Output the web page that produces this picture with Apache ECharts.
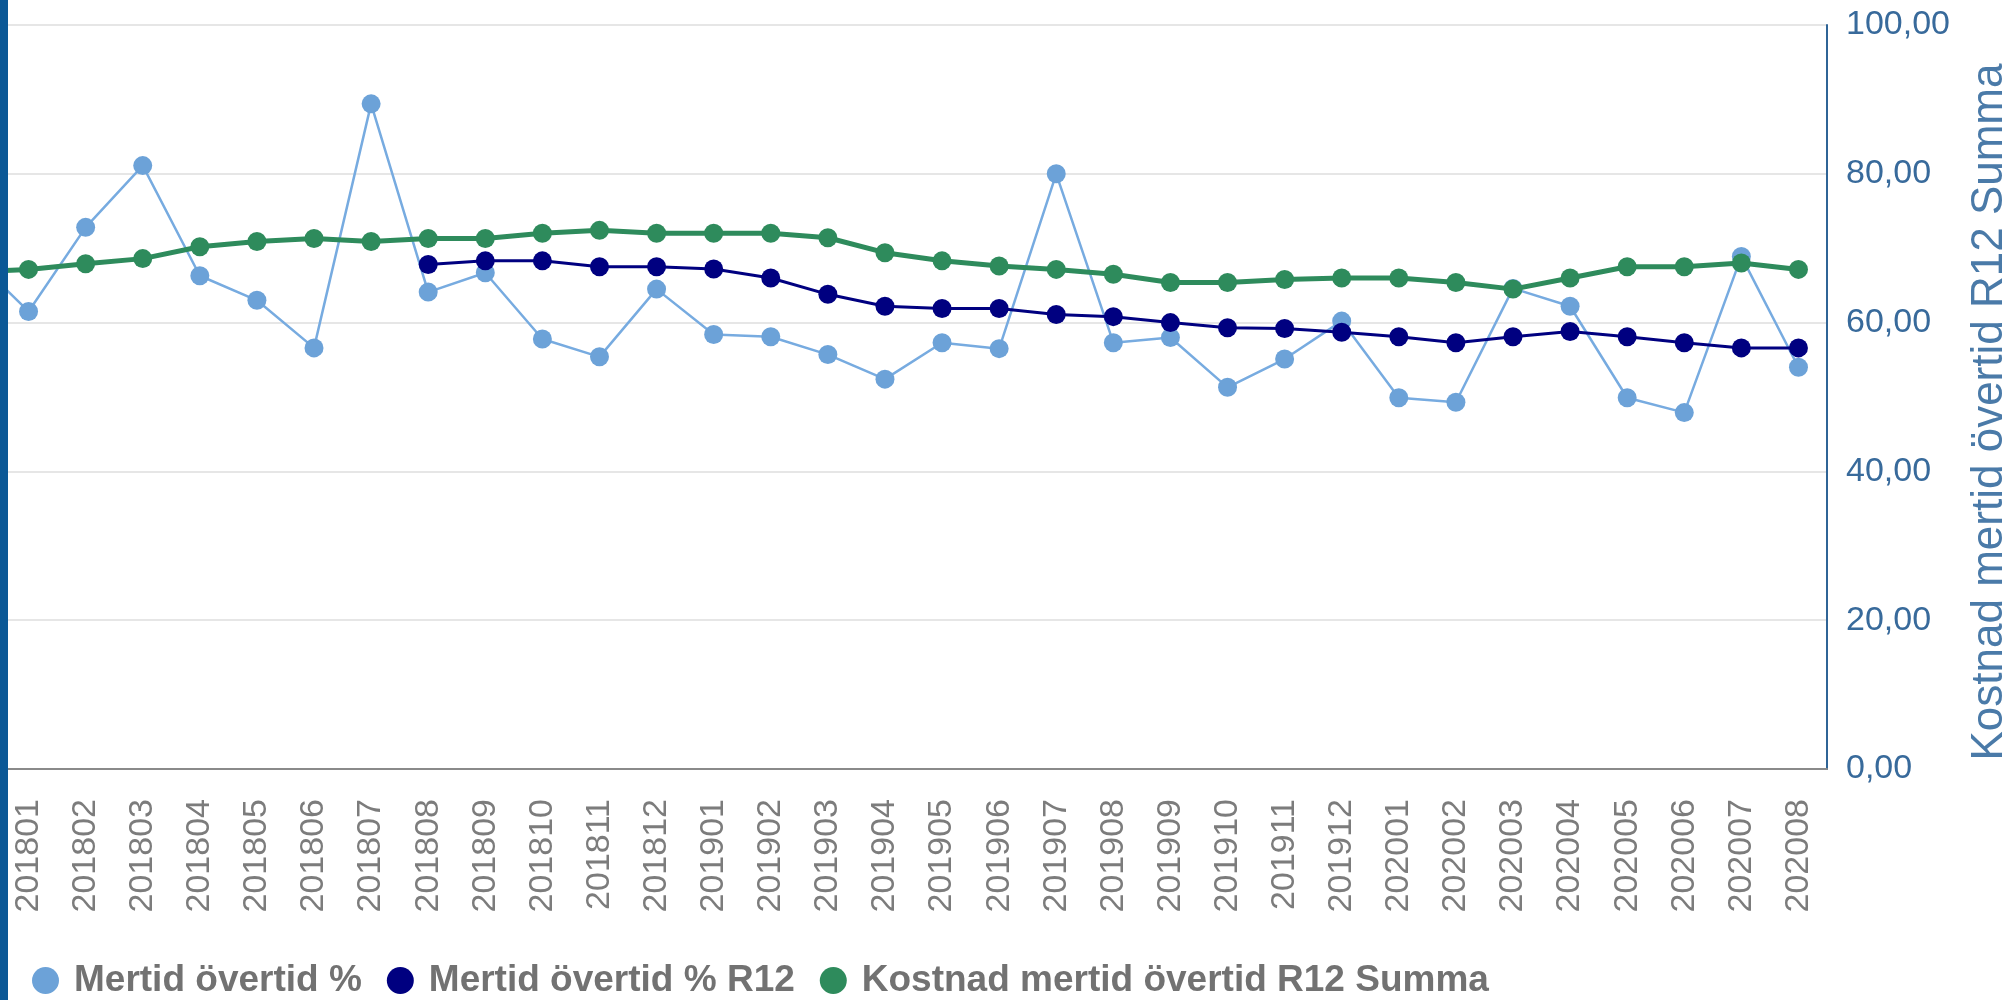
<!DOCTYPE html>
<html>
<head>
<meta charset="utf-8">
<title>Mertid övertid</title>
<script src="https://cdn.jsdelivr.net/npm/echarts@6/dist/echarts.min.js"></script>
<style>
    html, body { margin: 0; padding: 0; background: #fff; }
    #chart { width: 2010px; height: 1000px; }
</style>
</head>
<body>
<div id="chart"></div>
<script>
// månader (201712 ligger utanför bild, bara linjen in från vänster syns)
var months = ['201712',
    '201801', '201802', '201803', '201804', '201805', '201806', '201807', '201808',
    '201809', '201810', '201811', '201812', '201901', '201902', '201903', '201904',
    '201905', '201906', '201907', '201908', '201909', '201910', '201911', '201912',
    '202001', '202002', '202003', '202004', '202005', '202006', '202007', '202008'];

var mertidPct = [69.0,
    61.5, 72.8, 81.1, 66.3, 63.0, 56.6, 89.4, 64.1,
    66.7, 57.8, 55.4, 64.5, 58.4, 58.1, 55.7, 52.4,
    57.3, 56.5, 80.0, 57.3, 58.0, 51.3, 55.1, 60.2,
    49.9, 49.3, 64.6, 62.2, 49.9, 47.9, 68.9, 54.0];

var mertidR12 = [null,
    null, null, null, null, null, null, null, 67.8,
    68.3, 68.3, 67.5, 67.5, 67.2, 66.0, 63.8, 62.2,
    61.9, 61.9, 61.1, 60.8, 60.0, 59.3, 59.2, 58.7,
    58.1, 57.3, 58.1, 58.8, 58.1, 57.3, 56.6, 56.6];

var kostnadR12 = [66.8,
    67.15, 67.9, 68.6, 70.2, 70.9, 71.3, 70.9, 71.3,
    71.3, 72.0, 72.4, 72.0, 72.0, 72.0, 71.4, 69.4,
    68.3, 67.6, 67.15, 66.5, 65.4, 65.4, 65.8, 66.0,
    66.0, 65.4, 64.5, 66.0, 67.5, 67.5, 68.0, 67.15];

var yTicks = { min: 0, max: 100, step: 20 };

var font = 'Liberation Sans, Arial, Helvetica, sans-serif';

var chart = echarts.init(document.getElementById('chart'));

function lineSeries(name, data, color, lineColor, width, z){
    return {
        name: name,
        type: 'line',
        data: data,
        z: z,
        clip: true,
        symbol: 'circle',
        symbolSize: 19,
        showAllSymbol: true,
        connectNulls: false,
        animation: false,
        itemStyle: { color: color },
        lineStyle: { color: lineColor, width: width },
        emphasis: { disabled: true }
    };
}

chart.setOption({
    backgroundColor: '#fff',
    animation: false,
    textStyle: { fontFamily: font },
    grid: {
        left: 0,
        right: 183,
        top: 25,
        bottom: 231,
        containLabel: false,
        outerBoundsMode: 'none'
    },
    legend: {
        left: 32,
        top: 962,
        padding: 0,
        icon: 'circle',
        itemWidth: 27,
        itemHeight: 27,
        itemGap: 25,
        textStyle: {
            fontFamily: font,
            fontSize: 37,
            fontWeight: 'bold',
            color: '#727272',
            padding: [0, 0, 0, 10]
        },
        data: ['Mertid övertid %', 'Mertid övertid % R12', 'Kostnad mertid övertid R12 Summa']
    },
    xAxis: {
        type: 'category',
        data: months,
        min: 1,
        boundaryGap: true,
        axisLine: { lineStyle: { color: '#8a8a8a', width: 2 } },
        axisTick: {
            alignWithLabel: true,
            interval: 0,
            length: 12,
            lineStyle: { color: '#8a8a8a', width: 2 }
        },
        axisLabel: {
            interval: 0,
            rotate: 90,
            margin: 30,
            fontSize: 34,
            fontFamily: font,
            color: '#7c7c7c'
        },
        splitLine: { show: false }
    },
    yAxis: {
        type: 'value',
        position: 'right',
        min: yTicks.min,
        max: yTicks.max,
        interval: yTicks.step,
        name: 'Kostnad mertid övertid R12 Summa',
        nameLocation: 'middle',
        nameGap: 141,
        nameTextStyle: {
            fontFamily: font,
            fontSize: 44,
            color: '#4a7aa8',
            padding: [0, 30, 0, 0]
        },
        axisLine: { show: true, lineStyle: { color: '#2f6496', width: 2 } },
        axisTick: { show: false },
        axisLabel: {
            margin: 19,
            fontSize: 34,
            fontFamily: font,
            color: '#386a9b',
            formatter: function(v){
                return v.toFixed(2).replace('.', ',');
            }
        },
        splitLine: { lineStyle: { color: '#e6e6e6', width: 2 } }
    },
    series: [
        lineSeries('Mertid övertid %', mertidPct, '#6ca2d8', '#77abe0', 2.5, 2),
        lineSeries('Mertid övertid % R12', mertidR12, '#000080', '#000080', 3, 3),
        lineSeries('Kostnad mertid övertid R12 Summa', kostnadR12, '#2e8b5c', '#2e8b5c', 5, 4)
    ],
    graphic: [{
        type: 'rect',
        left: 0,
        top: 0,
        z: 100,
        shape: { width: 8, height: 1000 },
        style: { fill: '#0b5896' }
    }]
});
</script>
</body>
</html>
